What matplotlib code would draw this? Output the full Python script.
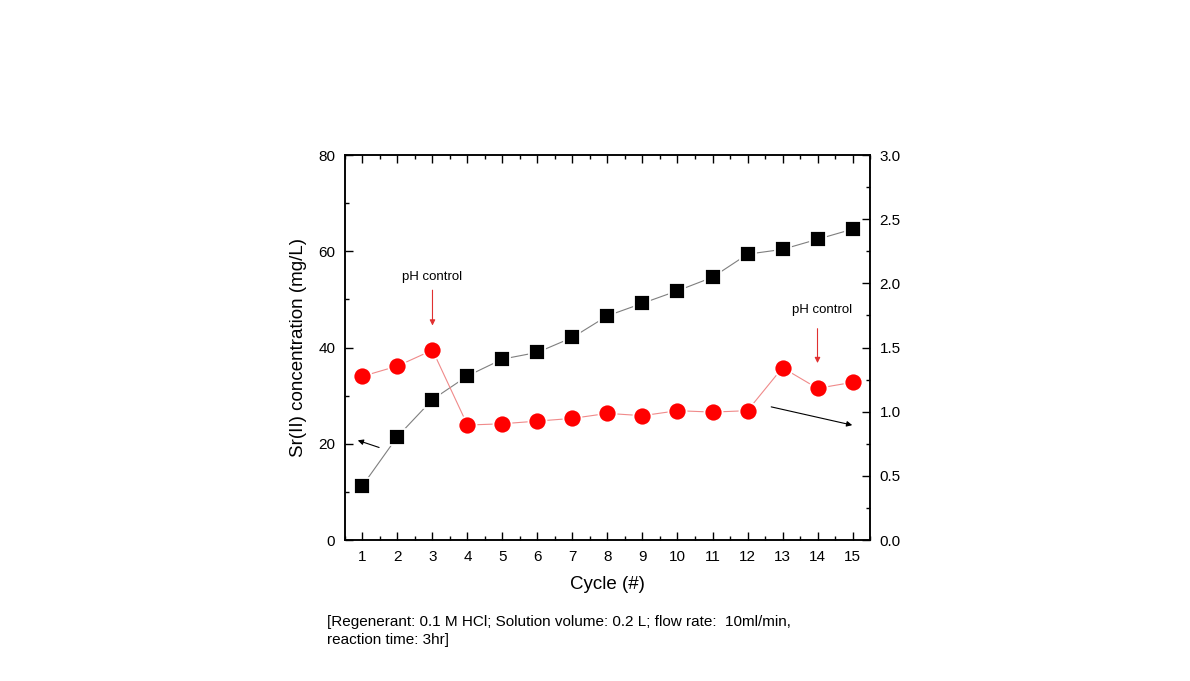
import matplotlib.pyplot as plt
from matplotlib.ticker import MultipleLocator

plt.rcParams['font.family'] = ['Liberation Sans', 'DejaVu Sans']

cycles = list(range(1, 16))
sr_conc = [11.3, 21.5, 29.2, 34.1, 37.6, 39.0, 42.1, 46.6, 49.2, 51.8, 54.6, 59.4, 60.4, 62.5, 64.6]
ph_vals = [1.276, 1.356, 1.48, 0.896, 0.906, 0.927, 0.948, 0.987, 0.969, 1.008, 0.997, 1.008, 1.343, 1.182, 1.229]

fig = plt.figure(figsize=(11.9, 6.81), dpi=100)
ax = fig.add_axes([0.2899, 0.2070, 0.4412, 0.5653])
ax2 = ax.twinx()

# black squares on left axis (white edge gives the small gaps in the line)
ax.plot(cycles, sr_conc, color='#7f7f7f', lw=0.8, zorder=2)
ax.plot(cycles, sr_conc, ls='none', marker='s', ms=11.5, color='black',
        markeredgecolor='white', markeredgewidth=1.3, zorder=3)

# red circles on right axis
ax2.plot(cycles, ph_vals, color='#f08a8a', lw=0.8, zorder=2)
ax2.plot(cycles, ph_vals, ls='none', marker='o', ms=13, color='#ff0000',
         markeredgecolor='white', markeredgewidth=1.3, zorder=3)

ax.set_xlim(0.5, 15.5)
ax.set_ylim(0, 80)
ax2.set_ylim(0, 3.0)

ax.set_xticks(cycles)
ax.xaxis.set_minor_locator(MultipleLocator(0.5))
ax.yaxis.set_major_locator(MultipleLocator(20))
ax.yaxis.set_minor_locator(MultipleLocator(10))
ax2.yaxis.set_major_locator(MultipleLocator(0.5))
ax2.yaxis.set_minor_locator(MultipleLocator(0.25))
ax2.set_yticklabels([f'{v:.1f}' for v in ax2.get_yticks()])

ax.tick_params(axis='both', which='both', direction='in', top=True, labelsize=11, pad=7)
ax.tick_params(which='major', length=6, width=1)
ax.tick_params(which='minor', length=3, width=1)
ax.tick_params(axis='y', right=False)
ax2.tick_params(axis='y', which='both', direction='in', labelsize=11, pad=7)
ax2.tick_params(which='major', length=6, width=1)
ax2.tick_params(which='minor', length=3, width=1)

for a in (ax, ax2):
    for s in a.spines.values():
        s.set_linewidth(1.1)

ax.set_xlabel('Cycle (#)', fontsize=13.5, labelpad=9)
ax.set_ylabel('Sr(II) concentration (mg/L)', fontsize=13.5, labelpad=8)

# annotations
ax.annotate('', xy=(3, 44.0), xytext=(3, 52.5),
            arrowprops=dict(arrowstyle='-|>', color='#e03030', lw=0.8, mutation_scale=8))
ax.text(3, 54.6, 'pH control', fontsize=9.5, ha='center', va='center')
ax.annotate('', xy=(14, 36.2), xytext=(14, 44.5),
            arrowprops=dict(arrowstyle='-|>', color='#e03030', lw=0.8, mutation_scale=8))
ax.text(14.13, 47.8, 'pH control', fontsize=9.5, ha='center', va='center')

ax.annotate('', xy=(0.79, 20.9), xytext=(1.55, 19.05),
            arrowprops=dict(arrowstyle='-|>', color='black', lw=0.8, mutation_scale=8))
ax.annotate('', xy=(15.07, 23.75), xytext=(12.6, 27.8),
            arrowprops=dict(arrowstyle='-|>', color='black', lw=0.8, mutation_scale=8))

fig.text(327 / 1190, 1 - 615 / 681,
         '[Regenerant: 0.1 M HCl; Solution volume: 0.2 L; flow rate:  10ml/min,\nreaction time: 3hr]',
         fontsize=11, ha='left', va='top', linespacing=1.35)

fig.savefig('out.png', dpi=100)
